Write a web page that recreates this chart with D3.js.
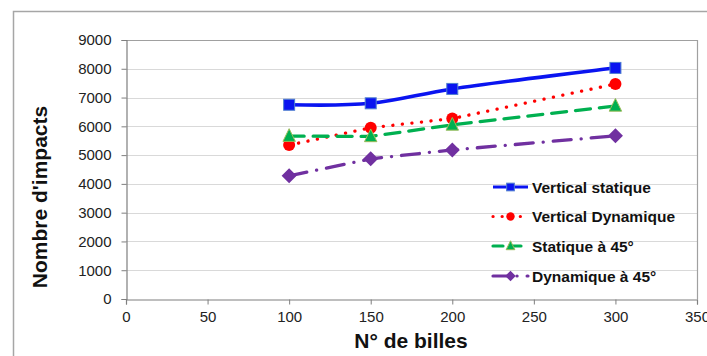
<!DOCTYPE html>
<html><head><meta charset="utf-8">
<script src="https://cdn.jsdelivr.net/npm/d3@7"></script>
<style>
body{margin:0;background:#fff;}
svg{display:block;font-family:Arial,"Liberation Sans",sans-serif;}
</style></head>
<body>
<svg id="c" width="707" height="356"></svg>
<script>
const billes = [100, 150, 200, 300];
const verticalStatique = [6750, 6800, 7300, 8030];
const verticalDynamique = [5350, 5950, 6270, 7470];
const statique45 = [5660, 5650, 6050, 6710];
const dynamique45 = [4280, 4870, 5180, 5670];
const xTicks = [0, 50, 100, 150, 200, 250, 300, 350];
const yTicks = [0, 1000, 2000, 3000, 4000, 5000, 6000, 7000, 8000, 9000];
const seriesNames = ["Vertical statique", "Vertical Dynamique", "Statique à 45°", "Dynamique à 45°"];

const series = [
  {name: seriesNames[0], values: verticalStatique, color: "#0a14f0", dash: null, marker: "square", curve: true},
  {name: seriesNames[1], values: verticalDynamique, color: "#ff0000", dash: "0.1 9.5", marker: "circle"},
  {name: seriesNames[2], values: statique45, color: "#00b050", dash: "15 9", marker: "triangle"},
  {name: seriesNames[3], values: dynamique45, color: "#7030a0", dash: "18 10 0.1 10", marker: "diamond"}
];

const svg = d3.select("#c");
const L = 126, R = 697, T = 40, B = 299;
const x = d3.scaleLinear().domain([0, 350]).range([L, R]);
const y = d3.scaleLinear().domain([0, 9000]).range([B, T]);

// outer frame
svg.append("path").attr("d", `M13.5,356 V11.5 H707`).attr("fill", "none").attr("stroke", "#a6a6a6").attr("stroke-width", 1.5);

// gridlines
svg.append("g").selectAll("line").data(yTicks.slice(1)).join("line")
  .attr("x1", L).attr("x2", R).attr("y1", d => Math.round(y(d)) + 0.5).attr("y2", d => Math.round(y(d)) + 0.5)
  .attr("stroke", "#d9d9d9").attr("stroke-width", 1);
// plot border right/top
svg.append("path").attr("d", `M${L},${T+0.5} H${R+0.5} V${B}`).attr("fill", "none").attr("stroke", "#a0a0a0").attr("stroke-width", 1.2);

// axes
const yAxis = d3.axisLeft(y).tickValues(yTicks).tickSize(5).tickPadding(10).tickFormat(d3.format("d"));
const gy = svg.append("g").attr("transform", `translate(${L+0.5},0)`).call(yAxis);
const xAxis = d3.axisBottom(x).tickValues(xTicks).tickSize(5).tickPadding(7).tickFormat(d3.format("d"));
const gx = svg.append("g").attr("transform", `translate(0,${B+0.5})`).call(xAxis);
[gy, gx].forEach(g => {
  g.select(".domain").attr("stroke", "#7f7f7f").attr("stroke-width", 1.2);
  g.selectAll(".tick line").attr("stroke", "#7f7f7f");
  g.selectAll(".tick text").attr("font-size", 15).attr("fill", "#222").attr("font-family", "Arial, 'Liberation Sans', sans-serif");
});

// axis titles
svg.append("text").attr("transform", `translate(47,197) rotate(-90)`).attr("text-anchor", "middle")
  .attr("font-size", 21).attr("font-weight", "bold").attr("fill", "#111").text("Nombre d'impacts");
svg.append("text").attr("x", 411).attr("y", 348).attr("text-anchor", "middle")
  .attr("font-size", 21).attr("font-weight", "bold").attr("fill", "#111").text("N° de billes");

function drawMarker(g, type, cx, cy, color, scale = 1) {
  if (type === "square") {
    const s = 11 * scale;
    g.append("rect").attr("x", cx - s/2).attr("y", cy - s/2).attr("width", s).attr("height", s)
      .attr("fill", color).attr("stroke", "#4f7fd0").attr("stroke-width", 1);
  } else if (type === "circle") {
    g.append("circle").attr("cx", cx).attr("cy", cy).attr("r", 6 * scale).attr("fill", color);
  } else if (type === "triangle") {
    const s = 6.2 * scale;
    g.append("path").attr("d", `M${cx},${cy - s*1.2} L${cx + s},${cy + s*0.85} L${cx - s},${cy + s*0.85} Z`)
      .attr("fill", color).attr("stroke", "#9bbb59").attr("stroke-width", 1);
  } else if (type === "diamond") {
    const s = 7.5 * scale;
    g.append("path").attr("d", `M${cx},${cy - s} L${cx + s},${cy} L${cx},${cy + s} L${cx - s},${cy} Z`)
      .attr("fill", color);
  }
}

// lines
series.forEach(s => {
  const pts = billes.map((b, i) => [x(b), y(s.values[i])]);
  const line = d3.line().curve(s.curve ? d3.curveCatmullRom.alpha(0.5) : d3.curveLinear);
  svg.append("path").attr("d", line(pts)).attr("fill", "none").attr("stroke", s.color)
    .attr("stroke-width", s.dash ? 3.3 : 3.6).attr("stroke-linecap", s.dash ? "round" : "butt")
    .attr("stroke-dasharray", s.dash);
});
// markers
series.forEach(s => {
  const g = svg.append("g");
  billes.forEach((b, i) => drawMarker(g, s.marker, x(b), y(s.values[i]), s.color));
});

// legend
const legY = [187, 216.5, 246, 276];
const legDash = [null, "0.1 9", "10 8", "14 10 0.1 10"];
series.forEach((s, i) => {
  const g = svg.append("g");
  const yy = legY[i];
  g.append("line").attr("x1", 493).attr("x2", 528).attr("y1", yy).attr("y2", yy)
    .attr("stroke", s.color).attr("stroke-width", 3.2).attr("stroke-linecap", s.dash ? "round" : "butt")
    .attr("stroke-dasharray", legDash[i]);
  drawMarker(g, s.marker, 510.5, yy, s.color, 0.7);
  g.append("text").attr("x", 532).attr("y", yy + 5.5).attr("font-size", 15.5).attr("font-weight", "bold")
    .attr("fill", "#111").text(s.name);
});
</script>
</body></html>
